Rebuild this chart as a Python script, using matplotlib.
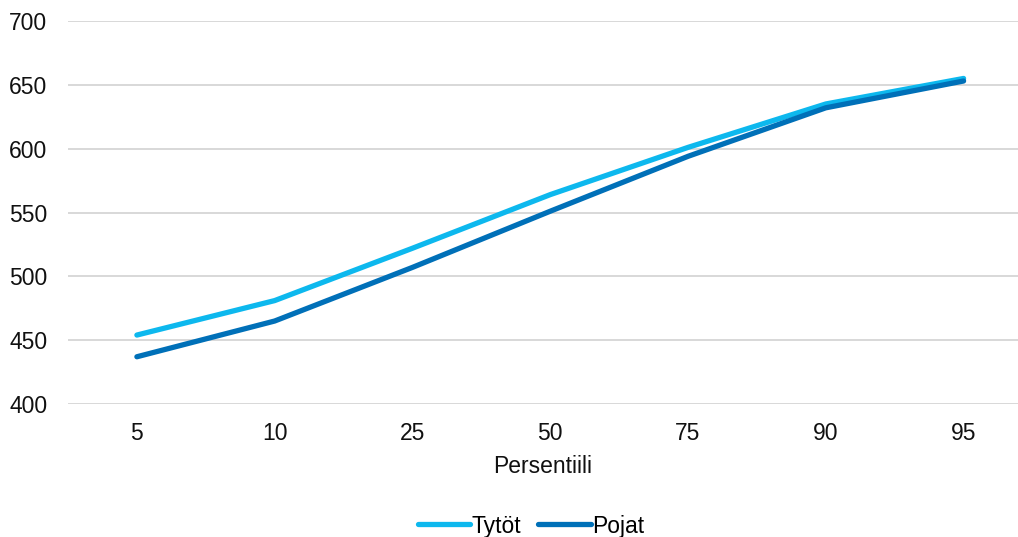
import matplotlib
matplotlib.use('Agg')

import matplotlib.pyplot as plt

# Data
percentiles = ["5", "10", "25", "50", "75", "90", "95"]
tytot = [454, 481, 522, 564, 601, 635, 655]
pojat = [437, 465, 507, 551, 594, 632, 653]

plt.rcParams['font.family'] = ['Liberation Sans', 'DejaVu Sans']
fs = 16.5

fig = plt.figure(figsize=(10.18, 5.37), dpi=100)
ax = fig.add_axes([68 / 1018, 133 / 537, 1 - 68 / 1018, 383 / 537])

x = range(len(percentiles))
ax.plot(x, tytot, color="#0DB8EE", lw=3.8, solid_capstyle="round", label="Tytöt", zorder=3)
ax.plot(x, pojat, color="#0070B8", lw=3.8, solid_capstyle="round", label="Pojat", zorder=3)

ax.set_ylim(400, 700)
ax.set_yticks(range(400, 701, 50))
ax.set_xlim(-0.5, 6.395)
ax.set_xticks(list(x))
ax.set_xticklabels(percentiles)

ax.grid(axis="y", color="#D6D6D6", lw=1.3)
ax.set_axisbelow(True)
for s in ax.spines.values():
    s.set_visible(False)
ax.tick_params(length=0, labelsize=fs, colors="#111111")
ax.tick_params(axis="y", pad=15)
ax.tick_params(axis="x", pad=13)
ax.set_xlabel("Persentiili", fontsize=fs, color="#111111", labelpad=7)

fig.legend(loc="center", bbox_to_anchor=(531 / 1018, 1 - 526 / 537), ncol=2,
           frameon=False, fontsize=fs, handlelength=2.3, handletextpad=0.05,
           columnspacing=0.75)

plt.savefig("out.png", dpi=100)
